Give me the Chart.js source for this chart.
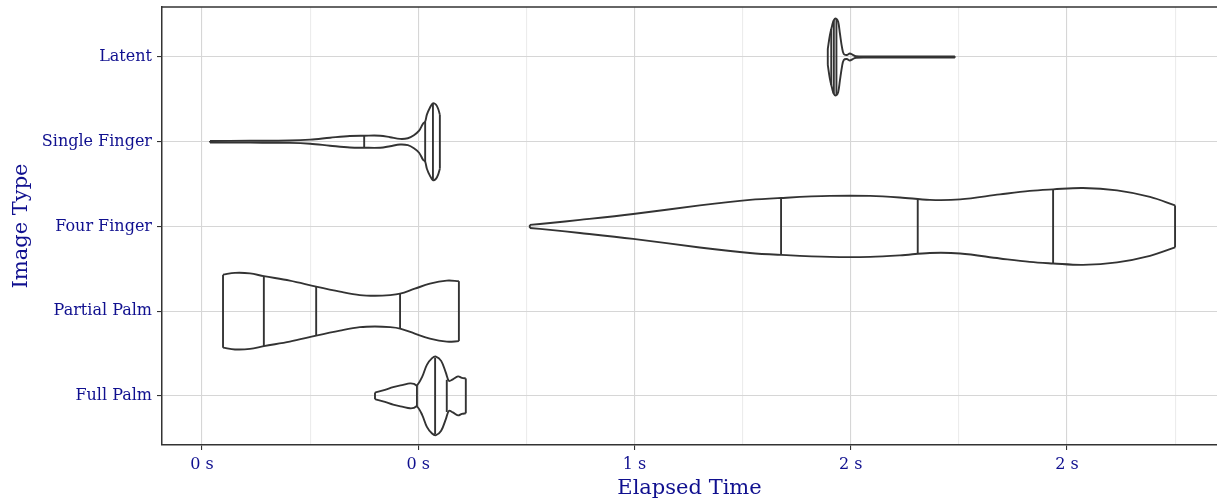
<!DOCTYPE html>
<html>
<head>
<meta charset="utf-8">
<script src="https://cdn.jsdelivr.net/npm/chart.js@4"></script>
<style>
  html, body { margin:0; padding:0; background:#fff; }
  #wrap { width:1217px; height:504px; }
</style>
</head>
<body>
<div id="wrap"><canvas id="chart"></canvas></div>
<script>
// categories, bottom to top (y = 1..5)
const categories = ['Full Palm', 'Partial Palm', 'Four Finger', 'Single Finger', 'Latent'];

// x ticks (seconds) and their labels
const xTickValues = [0, 0.5, 1, 1.5, 2];
const xTickLabels = ['0 s', '0 s', '1 s', '2 s', '2 s'];

// violin outlines: elapsed time (s) and half width (category units)
const latentTime  = [1.447, 1.452, 1.457, 1.461, 1.466, 1.471, 1.475, 1.480, 1.484, 1.491, 1.498, 1.505, 1.512, 1.545, 1.741];
const latentWidth = [0.094, 0.260, 0.370, 0.435, 0.454, 0.415, 0.280, 0.110, 0.035, 0.024, 0.041, 0.024, 0.009, 0.007, 0.007];
const latentQuant      = [1.455, 1.461, 1.467];
const latentQuantWidth = [0.33, 0.435, 0.45];

const singleTime  = [0.0185, 0.111, 0.203, 0.250, 0.296, 0.342, 0.375, 0.412, 0.435, 0.458, 0.476, 0.490, 0.502, 0.511, 0.516, 0.520, 0.527, 0.534, 0.541, 0.546, 0.550];
const singleWidth = [0.009, 0.011, 0.014, 0.024, 0.047, 0.068, 0.071, 0.071, 0.053, 0.033, 0.041, 0.077, 0.130, 0.212, 0.236, 0.319, 0.401, 0.454, 0.437, 0.389, 0.319];
const singleQuant      = [0.375, 0.516, 0.534];
const singleQuantWidth = [0.071, 0.236, 0.445];

const fourTime  = [0.758, 0.805, 0.874, 0.997, 1.151, 1.267, 1.339, 1.452, 1.545, 1.614, 1.683, 1.753, 1.845, 1.914, 1.968, 2.037, 2.116, 2.192, 2.250];
const fourWidth = [0.018, 0.041, 0.077, 0.147, 0.248, 0.313, 0.336, 0.360, 0.360, 0.342, 0.313, 0.319, 0.378, 0.419, 0.437, 0.454, 0.425, 0.348, 0.248];
const fourQuant      = [1.339, 1.655, 1.968];
const fourQuantWidth = [0.336, 0.316, 0.437];

const partialTime  = [0.0486, 0.0763, 0.111, 0.143, 0.203, 0.264, 0.319, 0.365, 0.400, 0.435, 0.458, 0.492, 0.527, 0.566, 0.594];
const partialWidth = [0.431, 0.452, 0.446, 0.413, 0.360, 0.289, 0.230, 0.189, 0.181, 0.189, 0.206, 0.265, 0.324, 0.360, 0.354];
const partialQuant      = [0.143, 0.264, 0.458];
const partialQuantWidth = [0.413, 0.289, 0.206];

const fullTime  = [0.400, 0.423, 0.442, 0.465, 0.481, 0.490, 0.497, 0.509, 0.520, 0.532, 0.541, 0.553, 0.564, 0.571, 0.580, 0.592, 0.601, 0.610];
const fullWidth = [0.039, 0.071, 0.103, 0.130, 0.147, 0.142, 0.124, 0.224, 0.366, 0.445, 0.464, 0.413, 0.271, 0.177, 0.195, 0.230, 0.212, 0.206];
const fullQuant      = [0.497, 0.539, 0.566];
const fullQuantWidth = [0.124, 0.45, 0.19];

const violins = [
  { cat: 1, time: fullTime,    width: fullWidth,    q: fullQuant,    qw: fullQuantWidth },
  { cat: 2, time: partialTime, width: partialWidth, q: partialQuant, qw: partialQuantWidth },
  { cat: 3, time: fourTime,    width: fourWidth,    q: fourQuant,    qw: fourQuantWidth },
  { cat: 4, time: singleTime,  width: singleWidth,  q: singleQuant,  qw: singleQuantWidth },
  { cat: 5, time: latentTime,  width: latentWidth,  q: latentQuant,  qw: latentQuantWidth }
];

const INK = '#333333';
const TEXT = '#10108f';
const FONT = "'DejaVu Serif', serif";

function lineSet(data, smooth){
  return {
    data, showLine: true, borderColor: INK, borderWidth: 1.9,
    pointRadius: 0, fill: false,
    tension: smooth ? 0.35 : 0
  };
}

const datasets = [];
violins.forEach(v => {
  const n = v.time.length;
  datasets.push(lineSet(v.time.map((t,i) => ({x:t, y:v.cat + v.width[i]})), true));
  datasets.push(lineSet(v.time.map((t,i) => ({x:t, y:v.cat - v.width[i]})), true));
  datasets.push(lineSet([{x:v.time[0], y:v.cat - v.width[0]}, {x:v.time[0], y:v.cat + v.width[0]}], false));
  datasets.push(lineSet([{x:v.time[n-1], y:v.cat - v.width[n-1]}, {x:v.time[n-1], y:v.cat + v.width[n-1]}], false));
  v.q.forEach((q,i) => {
    datasets.push(lineSet([{x:q, y:v.cat - v.qw[i]}, {x:q, y:v.cat + v.qw[i]}], false));
  });
});

const isMajor = val => Math.abs(val*2 - Math.round(val*2)) < 1e-6;

const topBorder = {
  id: 'topBorder',
  afterDraw(chart){
    const {ctx, chartArea} = chart;
    ctx.save();
    ctx.strokeStyle = INK;
    ctx.lineWidth = 1.5;
    ctx.beginPath();
    ctx.moveTo(chartArea.left - 0.75, chartArea.top);
    ctx.lineTo(chartArea.right, chartArea.top);
    ctx.stroke();
    ctx.restore();
  }
};

new Chart(document.getElementById('chart'), {
  type: 'scatter',
  data: { datasets },
  plugins: [topBorder],
  options: {
    responsive: true,
    maintainAspectRatio: false,
    animation: false,
    layout: { padding: { top: 7, left: 0, right: 0, bottom: 0 } },
    plugins: { legend: { display:false }, tooltip: { enabled:false } },
    scales: {
      x: {
        type: 'linear',
        min: -0.0925, max: 2.347,
        afterBuildTicks: s => { s.ticks = [0,0.25,0.5,0.75,1,1.25,1.5,1.75,2,2.25].map(v => ({value:v})); },
        afterFit: s => { s.height = 59; s.paddingLeft = 0; s.paddingRight = 0; },
        ticks: {
          autoSkip: false, maxRotation: 0, padding: 5, color: TEXT,
          font: { family: FONT, size: 16 },
          callback: v => { const i = xTickValues.indexOf(v); return i >= 0 ? xTickLabels[i] : ''; }
        },
        grid: {
          color: c => isMajor(c.tick.value) ? '#d6d6d6' : '#ececec',
          lineWidth: 1.1,
          tickLength: 5,
          tickColor: c => isMajor(c.tick.value) ? INK : 'rgba(0,0,0,0)'
        },
        border: { display: true, color: INK, width: 1.5 },
        title: { display: true, text: 'Elapsed Time', color: TEXT, font: { family: FONT, size: 21 }, padding: { top: 0, bottom: 3 } }
      },
      y: {
        type: 'linear',
        min: 0.42, max: 5.59,
        afterBuildTicks: s => { s.ticks = [1,2,3,4,5].map(v => ({value:v})); },
        afterFit: s => { s.width = 162; s.paddingTop = 0; s.paddingBottom = 0; },
        ticks: {
          autoSkip: false, padding: 5, color: TEXT,
          font: { family: FONT, size: 16 },
          callback: v => categories[v - 1] || ''
        },
        grid: { color: '#d6d6d6', lineWidth: 1.1, tickLength: 5, tickColor: INK },
        border: { display: true, color: INK, width: 1.5 },
        title: { display: true, text: 'Image Type', color: TEXT, font: { family: FONT, size: 21 }, padding: { top: 9, bottom: 0 } }
      }
    }
  }
});
</script>
</body>
</html>
